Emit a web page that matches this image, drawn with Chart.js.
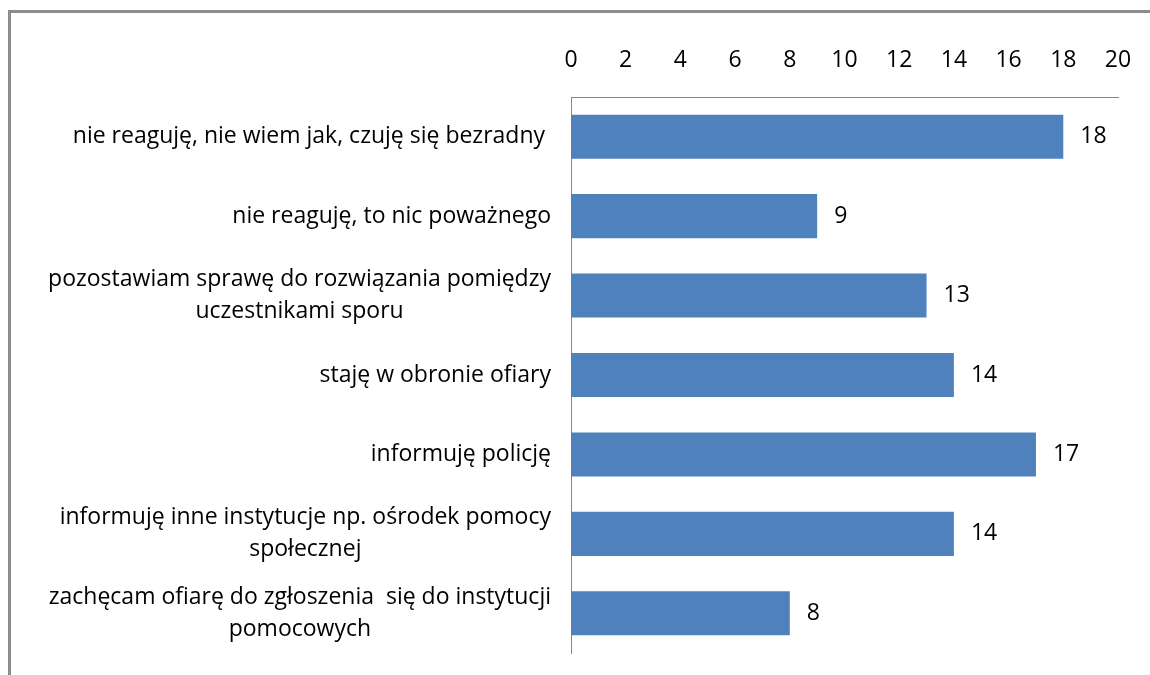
<!DOCTYPE html>
<html>
<head>
<meta charset="utf-8">
<script src="https://cdn.jsdelivr.net/npm/chart.js@4.4.0/dist/chart.umd.min.js"></script>
<style>
  html, body { margin: 0; padding: 0; background: #fff; }
  #wrap { width: 1150px; height: 675px; }
</style>
</head>
<body>
<div id="wrap"><canvas id="chart" width="1150" height="675"></canvas></div>
<script>
const categories = [
  ['nie reaguję, nie wiem jak, czuję się bezradny '],
  ['nie reaguję, to nic poważnego'],
  ['pozostawiam sprawę do rozwiązania pomiędzy', 'uczestnikami sporu'],
  ['staję w obronie ofiary'],
  ['informuję policję'],
  ['informuję inne instytucje np. ośrodek pomocy', 'społecznej'],
  ['zachęcam ofiarę do zgłoszenia  się do instytucji', 'pomocowych']
];
const values = [18, 9, 13, 14, 17, 14, 8];
const xTicks = [0, 2, 4, 6, 8, 10, 12, 14, 16, 18, 20];

const FONT = '"Open Sans", sans-serif';
const FONT_SIZE = 23;
const AXIS_COLOR = '#868686';

// frame round the chart (only top and left are visible in the crop)
const framePlugin = {
  id: 'frame',
  beforeDraw(chart) {
    const ctx = chart.ctx;
    ctx.save();
    ctx.strokeStyle = '#8c8c8c';
    ctx.lineWidth = 3;
    ctx.beginPath();
    ctx.moveTo(9.5, chart.height);
    ctx.lineTo(9.5, 11.5);
    ctx.lineTo(chart.width, 11.5);
    ctx.stroke();
    ctx.restore();
  }
};

// category labels: block right aligned, lines centred inside the block
const catLabelPlugin = {
  id: 'catLabels',
  afterDraw(chart) {
    const ctx = chart.ctx;
    const yScale = chart.scales.y;
    const right = 551;
    const lineH = 32;
    ctx.save();
    ctx.font = FONT_SIZE + 'px ' + FONT;
    ctx.fillStyle = '#000';
    ctx.textAlign = 'center';
    ctx.textBaseline = 'middle';
    categories.forEach(function (lines, i) {
      const y = yScale.getPixelForValue(i);
      const w = Math.max.apply(null, lines.map(l => ctx.measureText(l).width));
      const cx = right - w / 2;
      const top = y - (lines.length - 1) * lineH / 2;
      lines.forEach(function (l, j) {
        ctx.fillText(l, cx, top + j * lineH);
      });
    });
    ctx.restore();
  }
};

// value labels at the end of each bar
const valueLabelPlugin = {
  id: 'valueLabels',
  afterDatasetsDraw(chart) {
    const ctx = chart.ctx;
    const meta = chart.getDatasetMeta(0);
    ctx.save();
    ctx.font = FONT_SIZE + 'px ' + FONT;
    ctx.fillStyle = '#000';
    ctx.textAlign = 'left';
    ctx.textBaseline = 'middle';
    meta.data.forEach(function (bar, i) {
      ctx.fillText(String(values[i]), bar.x + 17, bar.y);
    });
    ctx.restore();
  }
};

new Chart(document.getElementById('chart'), {
  type: 'bar',
  data: {
    labels: categories,
    datasets: [{
      data: values,
      backgroundColor: '#4F81BD',
      borderWidth: 0,
      barPercentage: 0.555,
      categoryPercentage: 1
    }]
  },
  options: {
    indexAxis: 'y',
    responsive: false,
    animation: false,
    layout: { padding: { left: 0, right: 32, top: 0, bottom: 22 } },
    plugins: {
      legend: { display: false },
      tooltip: { enabled: false }
    },
    scales: {
      x: {
        position: 'top',
        min: 0,
        max: 20,
        afterBuildTicks(scale) {
          scale.ticks = xTicks.map(v => ({ value: v }));
        },
        afterFit(scale) {
          scale.height = 97;
          scale.paddingLeft = 0;
          scale.paddingRight = 0;
        },
        grid: { display: false, drawTicks: false },
        border: { display: true, color: AXIS_COLOR, width: 1 },
        ticks: {
          padding: 23,
          color: '#000',
          font: { family: FONT, size: FONT_SIZE }
        }
      },
      y: {
        position: 'left',
        afterFit(scale) { scale.width = 571; },
        grid: { display: false, drawTicks: false },
        border: { display: true, color: AXIS_COLOR, width: 1 },
        ticks: { display: false }
      }
    }
  },
  plugins: [framePlugin, catLabelPlugin, valueLabelPlugin]
});
</script>
</body>
</html>
